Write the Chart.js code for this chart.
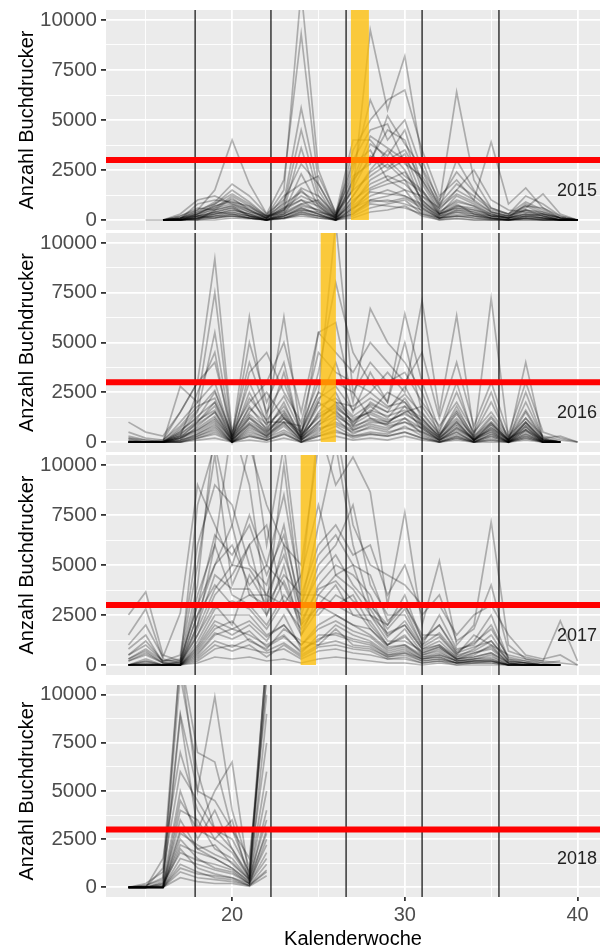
<!DOCTYPE html>
<html>
<head>
<meta charset="utf-8">
<script src="https://cdn.jsdelivr.net/npm/chart.js@4.4.1/dist/chart.umd.min.js"></script>
<style>
  body { margin: 0; background: #fff; width: 606px; height: 948px; position: relative; overflow: hidden; }
  canvas { position: absolute; left: 0; }
</style>
</head>
<body>
<canvas id="c2015"></canvas>
<canvas id="c2016"></canvas>
<canvas id="c2017"></canvas>
<canvas id="c2018"></canvas>
<script>
// ------------------------------------
// DATA (Kalenderwoche -> Anzahl Buchdrucker, one array per trap)
// ------------------------------------
const weeks2015 = [15,16,17,18,19,20,21,22,23,24,25,26,27,28,29,30,31,32,33,34,35,36,37,38,39,40];
const weeks2016 = [14,15,16,17,18,19,20,21,22,23,24,25,26,27,28,29,30,31,32,33,34,35,36,37,38,39,40];
const weeks2017 = [14,15,16,17,18,19,20,21,22,23,24,25,26,27,28,29,30,31,32,33,34,35,36,37,38,39,40];
const weeks2018 = [14,15,16,17,18,19,20,21,22];

const traps2015 = [
  [null,0,50,300,800,1500,900,200,1500,11500,2500,300,1500,9500,5500,8200,3000,800,6400,2000,600,300,1200,800,200,0],
  [null,0,100,500,1500,4000,1800,300,2000,9300,1800,200,2500,6000,4000,5000,2500,600,3000,1500,400,200,600,1300,300,0],
  [null,0,0,200,600,1200,700,100,900,5600,1500,100,3500,5000,6000,6500,3500,1200,2000,1000,3900,800,1600,600,100,0],
  [null,0,50,800,1000,900,500,100,700,4500,1200,300,4000,4000,3000,3500,2000,500,1500,2500,1000,500,400,200,0,0],
  [0,0,0,100,400,600,300,0,500,3600,900,100,2000,3000,4500,4000,1500,300,1200,800,300,100,300,100,0,0],
  [null,0,100,300,700,1000,600,200,400,2300,700,0,1200,2500,3500,2500,1000,200,700,600,200,100,200,300,100,0],
  [null,0,0,100,300,500,300,0,300,1500,600,100,800,2000,2500,3000,800,100,500,400,100,0,100,100,0,0],
  [null,0,200,600,500,700,200,100,600,1000,400,200,2800,3500,2000,1500,1200,300,800,300,200,100,800,400,100,0],
  [null,0,0,50,200,300,100,0,200,600,300,0,500,1500,1800,2000,600,100,300,200,100,0,100,0,0,0],
  [null,0,50,200,300,400,200,50,100,400,200,50,300,1000,1200,1500,400,50,200,100,50,0,50,0,0,0],
  [null,0,0,0,100,200,100,0,100,200,100,0,200,600,800,1000,300,0,100,0,0,0,0,0,0,0],
  [null,0,100,400,900,1800,1200,300,1000,2800,1800,300,3000,4500,4800,2800,2200,800,1800,1200,500,300,900,500,100,0],
  [null,0,0,100,200,400,200,0,300,800,1000,200,1800,3800,3200,4500,1800,400,1000,700,300,100,500,200,0,0],
  [null,0,0,0,0,100,50,0,50,300,100,0,100,400,500,700,200,0,50,0,0,0,0,0,0,0],
  [null,0,300,1000,1200,800,400,100,1200,1800,2200,400,2200,2800,5200,3800,2600,1000,2400,1400,600,300,700,600,200,0],
  [null,0,0,200,100,300,100,0,200,500,300,0,600,1200,1500,1200,800,200,400,300,100,0,200,100,0,0],
  [null,0,50,0,500,1100,500,100,600,1200,800,100,1500,2200,2800,2000,1400,300,600,500,200,100,400,300,0,0],
  [null,0,0,100,200,200,100,0,100,400,200,0,400,900,1000,800,500,100,200,100,0,0,100,0,0,0],
  [null,0,100,400,600,800,500,100,500,1000,700,100,900,1800,2200,1800,900,300,700,500,300,100,300,200,0,0],
  [null,0,0,300,500,700,400,200,300,700,500,100,1200,2400,3000,2200,1500,400,900,700,200,200,500,400,100,0],
  [null,0,200,500,800,1300,800,200,800,1400,900,200,1600,3200,2600,3300,1200,600,1300,900,400,200,700,300,100,0],
  [null,0,0,100,300,500,300,100,200,500,400,100,700,1400,1300,1200,700,200,500,300,100,50,200,100,0,0],
  [null,0,100,200,400,600,200,0,400,800,500,0,1000,1600,2000,2400,1000,300,600,400,200,100,300,200,0,0],
  [null,0,0,50,100,200,100,0,100,300,200,0,300,800,700,600,300,100,200,200,50,0,100,50,0,0],
  [null,0,50,300,700,900,700,200,500,1600,1200,200,2000,4200,3600,3000,2000,700,1500,1000,400,200,500,300,100,0],
  [null,0,0,200,400,300,200,0,200,600,300,0,600,1000,900,1100,600,100,400,200,100,0,200,100,0,0]
];

const traps2016 = [
  [1000,500,300,1500,3000,9200,500,4000,1500,3000,600,2500,11000,2500,4000,3000,3500,2000,800,2000,500,1500,300,1200,300,100,0],
  [0,0,0,2800,2000,7500,300,6300,1200,6300,400,3500,8000,4500,3000,2000,6450,3000,600,3000,200,7200,200,2000,200,0,null],
  [200,0,0,500,1500,5500,200,5000,2000,4000,200,5500,6000,2000,6700,5000,4000,2500,300,1500,100,1000,100,4000,100,0,null],
  [0,0,0,300,2500,4500,0,3500,4500,2500,1000,4500,3500,3000,2500,3500,2500,7100,1500,6350,500,2500,0,1000,0,0,null],
  [100,0,50,1000,2000,3000,200,2500,800,3500,300,2000,4000,1500,3500,2000,5000,1500,400,1200,300,1000,100,2500,200,300,0],
  [0,0,0,200,1000,2000,100,1800,600,2000,100,1500,2500,800,2000,1500,2800,1200,200,1000,100,800,50,1500,100,0,null],
  [0,0,0,100,800,1500,0,1200,400,1500,200,1000,2000,1200,1500,2500,2000,800,100,700,200,600,0,800,0,0,null],
  [300,100,0,600,1200,2500,400,3000,1000,1000,800,3000,3000,2500,1200,1000,1500,1800,500,2500,400,2000,200,600,100,0,null],
  [0,0,0,50,400,800,0,600,200,800,0,500,1200,400,800,600,1200,400,0,300,0,300,0,400,0,0,null],
  [0,0,0,0,200,400,0,300,100,400,0,300,600,200,400,300,500,200,0,200,0,100,0,200,0,0,null],
  [500,200,100,1500,3000,4000,500,2000,3000,5000,1500,5500,4500,3500,5000,4000,3000,4500,1200,4000,800,3000,400,3000,500,200,0],
  [0,0,0,300,600,1200,100,900,300,1000,100,800,1600,600,1000,900,1800,600,100,500,0,400,0,600,0,0,null],
  [0,0,0,100,300,600,0,400,100,500,0,400,800,300,500,400,800,300,0,300,0,200,0,300,0,0,null],
  [0,0,100,800,1800,2200,300,1500,2500,1200,500,2500,2000,1800,2500,1800,2000,1000,300,1800,200,1200,100,1000,100,0,null],
  [0,0,0,0,100,200,0,100,0,200,0,100,300,100,200,100,300,100,0,100,0,0,0,100,0,0,null],
  [0,0,0,400,1000,1800,200,1400,700,1800,400,1200,1800,1000,1800,1200,2200,900,200,900,100,700,100,1200,100,0,null],
  [0,0,0,200,500,1000,0,800,300,1200,200,2000,1400,700,1200,800,1000,700,100,600,100,500,0,500,0,0,null],
  [0,0,0,0,300,700,0,500,200,600,100,700,900,500,700,500,700,500,50,400,50,300,0,300,0,0,null],
  [0,0,0,200,700,1300,100,1000,500,1200,200,1000,1500,900,1400,1000,1500,800,200,800,100,600,50,700,100,0,null],
  [100,0,0,500,1300,2000,300,1700,900,1600,300,1800,2200,1300,1900,1500,1800,1200,300,1400,200,900,100,900,100,0,null],
  [0,0,0,100,400,900,0,700,300,900,100,600,1000,600,900,700,1000,500,100,500,0,400,0,400,0,0,null],
  [0,0,0,300,900,1500,200,1200,600,1300,300,1300,1700,1100,1500,1100,1400,900,200,1000,100,700,100,800,0,0,null],
  [200,100,0,700,1600,2600,300,2200,1100,2300,500,2200,2800,1600,2200,1700,2400,1400,400,1600,300,1300,200,1600,200,0,null],
  [0,0,0,0,200,500,0,300,100,400,0,300,500,300,400,300,500,200,0,200,0,100,0,200,0,0,null],
  [0,0,0,400,1100,1600,100,1300,500,1400,200,1400,1900,1000,1600,1300,1600,1100,300,1100,100,900,100,1000,100,0,null],
  [0,0,0,200,600,1100,100,900,400,1000,100,900,1300,800,1100,900,1200,700,100,700,100,500,0,600,0,0,null]
];

const traps2017 = [
  [2500,3650,500,200,4000,12000,11000,12000,6000,11000,4000,12000,9000,10400,8650,3000,7650,2000,5200,1000,2000,7150,1000,300,200,2200,200],
  [1500,2800,300,100,8000,11000,7000,11000,8000,6000,5000,11000,12000,7000,5000,4500,4000,3000,3000,1500,2500,3000,1500,500,300,500,0],
  [800,1500,100,0,2000,6000,12000,9000,3000,10000,3000,7000,11000,6000,3000,2000,3000,1500,1500,500,1500,1000,500,300,100,200,null],
  [300,800,200,500,6000,9000,8000,5000,4000,7000,2500,5000,6000,8000,4000,2500,2500,1000,2500,800,1000,2000,300,200,100,0,null],
  [0,300,0,200,3000,5000,6000,4000,5000,4000,2000,4000,5000,4500,3500,1500,2000,800,1200,400,800,1500,200,100,0,0,null],
  [0,100,0,0,1500,3500,4500,6000,2500,5000,1500,3500,3000,3500,2000,1000,1500,500,800,300,600,800,100,0,0,0,null],
  [200,500,100,100,2500,4000,3000,3500,3500,3000,1800,3000,4000,2500,2500,1200,1200,700,1000,300,400,600,100,100,0,0,null],
  [0,0,0,0,1000,2500,2500,2500,1500,2000,1000,2000,2500,2000,1500,800,1000,400,600,200,300,400,50,0,0,0,null],
  [0,0,0,0,500,1500,1800,1500,1000,1500,600,1500,1500,1200,1000,500,600,200,300,100,200,200,0,0,0,0,null],
  [0,0,0,0,200,800,1000,800,600,800,300,700,800,600,500,300,300,100,200,0,100,100,0,0,0,0,null],
  [1000,2000,400,2600,9000,7000,5000,7500,5000,8500,3500,6000,7000,5500,6000,3500,5000,2500,3500,1200,1800,4000,700,400,200,100,0],
  [0,200,0,0,3500,6000,3500,3000,2000,3500,2500,2500,3500,3000,1800,1000,1800,600,900,300,500,1000,100,0,0,0,null],
  [0,0,0,0,800,2000,1500,2000,1200,2500,800,1200,2000,1500,1200,600,800,300,500,200,200,300,0,0,0,0,null],
  [0,0,0,0,300,1000,700,1000,400,1000,400,900,1000,800,700,300,400,100,200,100,100,100,0,0,0,0,null],
  [500,1200,200,300,5000,10500,4000,6000,7000,3000,4500,8000,4500,5000,2500,2000,3500,1200,2000,600,1200,2500,300,100,0,0,null],
  [0,0,0,0,100,400,300,400,200,300,100,300,400,300,200,100,100,0,100,0,0,0,0,0,0,0,null],
  [0,0,0,100,1500,3000,2000,4500,3000,6000,2000,3000,2500,2000,1800,900,1000,500,700,200,300,500,0,0,0,0,null],
  [200,600,100,0,700,1800,2200,1200,800,1800,1200,1000,1800,1000,900,400,600,300,400,100,200,200,0,0,0,0,null],
  [0,100,0,0,1200,2800,3200,2800,1800,3200,1500,2800,3000,2500,2200,1000,1400,600,900,300,400,600,100,0,0,0,null],
  [300,700,100,100,2000,4500,3800,3800,2500,4200,2200,3800,4200,3200,2800,1400,2200,900,1400,500,700,1200,200,100,0,0,null],
  [0,0,0,0,600,1600,1300,1700,900,1400,700,1300,1600,1300,1100,500,700,300,400,100,200,200,0,0,0,0,null],
  [0,200,0,0,1800,3800,5000,4800,3500,5500,2800,4500,5500,4000,3000,1800,2800,1000,1600,600,900,1200,200,100,0,0,null],
  [0,0,0,0,400,1200,900,1300,700,1100,500,1000,1200,900,800,400,500,200,300,100,100,200,0,0,0,0,null],
  [500,1000,200,200,3000,6500,5500,7000,4500,6500,3000,5500,6500,5000,4500,2200,3000,1300,2000,700,1100,1800,400,200,0,0,null],
  [0,0,0,0,900,2200,1800,2200,1400,2000,1000,1800,2200,1700,1400,700,900,400,500,200,300,300,0,0,0,0,null],
  [0,0,0,0,2500,5000,7000,3500,3000,4500,3500,3500,4500,3800,2500,1600,2000,800,1000,400,600,900,100,0,0,0,null]
];

const traps2018 = [
  [0,0,300,12000,5000,9900,4000,1000,12000],
  [0,0,0,8860,3000,5000,6500,400,11000],
  [0,100,500,11000,6000,3000,2000,600,12000],
  [0,0,1500,7000,4000,2500,3500,300,9000],
  [0,0,200,5000,2500,4000,2000,500,6000],
  [0,0,0,4000,3500,2000,1500,400,12000],
  [0,0,100,3500,2000,1500,1000,300,4000],
  [0,0,0,2500,1500,1000,800,200,2500],
  [0,0,0,2000,1000,700,500,200,1800],
  [0,0,0,1200,800,500,400,100,1200],
  [0,200,800,6000,4500,3000,2500,800,7500],
  [0,0,0,3000,2000,2200,1200,400,5000],
  [0,0,0,1500,1200,900,700,200,3000],
  [0,0,0,800,500,400,300,100,900],
  [0,0,1000,12000,7000,6500,3000,1500,10000],
  [0,0,0,500,300,200,200,50,600],
  [0,0,100,2200,1800,1500,1000,300,2200],
  [0,0,0,4500,3000,2500,1800,500,3500],
  [0,0,200,1800,1400,1200,900,200,1500],
  [0,0,0,2800,2200,1700,1300,400,2800],
  [0,0,0,1000,700,600,500,100,800],
  [0,100,400,9000,5000,4500,3000,700,11000]
];

// reference marks
const monthLines = [17.86, 22.25, 26.6, 31.0, 35.45];
const threshold = 3000;
const band2015 = [26.88, 27.92];
const band2016 = [25.13, 26.01];
const band2017 = [23.97, 24.86];

// axis ticks
const yTicks = [0, 1250, 2500, 3750, 5000, 6250, 7500, 8750, 10000];
const xTicks = [15, 20, 25, 30, 35, 40];

// ------------------------------------
// LAYOUT
// ------------------------------------
const FONT = '"Liberation Sans", Arial, sans-serif';
const PAD = 18;
const panels = [
  { id: "c2015", year: "2015", weeks: weeks2015, traps: traps2015, band: band2015, top: 10, bottom: 230 },
  { id: "c2016", year: "2016", weeks: weeks2016, traps: traps2016, band: band2016, top: 233, bottom: 452 },
  { id: "c2017", year: "2017", weeks: weeks2017, traps: traps2017, band: band2017, top: 455, bottom: 675 },
  { id: "c2018", year: "2018", weeks: weeks2018, traps: traps2018, band: null, top: 685, bottom: 897 },
];

const panelBg = {
  id: "panelBg",
  beforeDraw(chart) {
    const { ctx, chartArea: a } = chart;
    ctx.save();
    ctx.fillStyle = "#EBEBEB";
    ctx.fillRect(a.left, a.top, a.right - a.left, a.bottom - a.top);
    ctx.restore();
  },
};

const overlay = {
  id: "overlay",
  afterDatasetsDraw(chart, args, opts) {
    const { ctx, chartArea: a, scales: { x, y } } = chart;
    ctx.save();
    ctx.beginPath();
    ctx.rect(a.left, a.top, a.right - a.left, a.bottom - a.top);
    ctx.clip();
    // month boundaries
    ctx.strokeStyle = "#1a1a1a";
    ctx.lineWidth = 1.3;
    monthLines.forEach((w) => {
      const px = x.getPixelForValue(w);
      ctx.beginPath();
      ctx.moveTo(px, a.top);
      ctx.lineTo(px, a.bottom);
      ctx.stroke();
    });
    // threshold
    const py = y.getPixelForValue(threshold);
    ctx.strokeStyle = "#FF0000";
    ctx.lineWidth = 6;
    ctx.beginPath();
    ctx.moveTo(a.left, py);
    ctx.lineTo(a.right, py);
    ctx.stroke();
    // swarming band
    if (opts.band) {
      const x0 = x.getPixelForValue(opts.band[0]);
      const x1 = x.getPixelForValue(opts.band[1]);
      const yb = y.getPixelForValue(0);
      ctx.fillStyle = "rgba(255,190,0,0.75)";
      ctx.fillRect(x0, a.top, x1 - x0, yb - a.top);
    }
    // year label
    ctx.fillStyle = "#222";
    ctx.font = "18px " + FONT;
    ctx.textAlign = "right";
    ctx.textBaseline = "middle";
    ctx.fillText(opts.year, x.getPixelForValue(41.13), y.getPixelForValue(1450));
    ctx.restore();
  },
};

const isMajorY = (v) => v % 2500 === 0;
const isMajorX = (v) => v % 10 === 0;

panels.forEach((p, idx) => {
  const last = idx === panels.length - 1;
  const canvas = document.getElementById(p.id);
  const cTop = p.top - PAD;
  const cHeight = last ? 948 - cTop : p.bottom - p.top + 2 * PAD;
  canvas.width = 606;
  canvas.height = cHeight;
  canvas.style.top = cTop + "px";

  const datasets = p.traps.map((t) => ({
    data: p.weeks.map((w, i) => ({ x: w, y: t[i] })),
    borderColor: "rgba(0,0,0,0.27)",
    borderWidth: 1.7,
    pointRadius: 0,
    tension: 0,
    spanGaps: false,
    clip: 0,
  }));

  new Chart(canvas.getContext("2d"), {
    type: "line",
    data: { datasets },
    options: {
      responsive: false,
      animation: false,
      layout: { padding: { top: PAD, bottom: last ? 0 : PAD, left: 0, right: 6 } },
      plugins: {
        legend: { display: false },
        tooltip: { enabled: false },
        overlay: { band: p.band, year: p.year },
      },
      scales: {
        x: {
          type: "linear",
          min: 12.7,
          max: 41.3,
          afterBuildTicks: (s) => { s.ticks = xTicks.map((v) => ({ value: v })); },
          afterFit: (s) => { s.height = last ? 51 : 0; },
          border: { display: false },
          grid: {
            color: "#FFFFFF",
            lineWidth: (c) => (isMajorX(c.tick.value) ? 1.8 : 0.9),
            drawTicks: last,
            tickLength: 4,
            tickColor: (c) => (isMajorX(c.tick.value) ? "#333333" : "rgba(0,0,0,0)"),
          },
          ticks: {
            display: last,
            padding: 2,
            maxRotation: 0,
            autoSkip: false,
            color: "#4D4D4D",
            font: { family: FONT, size: 20 },
            callback: (v) => (isMajorX(v) ? String(v) : ""),
          },
          title: {
            display: last,
            text: "Kalenderwoche",
            color: "#000",
            font: { family: FONT, size: 20 },
            padding: { top: 0, bottom: -3 },
          },
        },
        y: {
          type: "linear",
          min: -500,
          max: 10500,
          afterBuildTicks: (s) => { s.ticks = yTicks.map((v) => ({ value: v })); },
          afterFit: (s) => { s.width = 106; },
          border: { display: false },
          grid: {
            color: "#FFFFFF",
            lineWidth: (c) => (isMajorY(c.tick.value) ? 1.8 : 0.9),
            tickLength: 5,
            tickColor: (c) => (isMajorY(c.tick.value) ? "#333333" : "rgba(0,0,0,0)"),
          },
          ticks: {
            padding: 4,
            autoSkip: false,
            color: "#4D4D4D",
            font: { family: FONT, size: 20.5 },
            callback: (v) => (isMajorY(v) ? String(v) : ""),
          },
          title: {
            display: true,
            text: "Anzahl Buchdrucker",
            color: "#000",
            font: { family: FONT, size: 20 },
            padding: { top: 15, bottom: 0 },
          },
        },
      },
    },
    plugins: [panelBg, overlay],
  });
});
</script>
</body>
</html>
